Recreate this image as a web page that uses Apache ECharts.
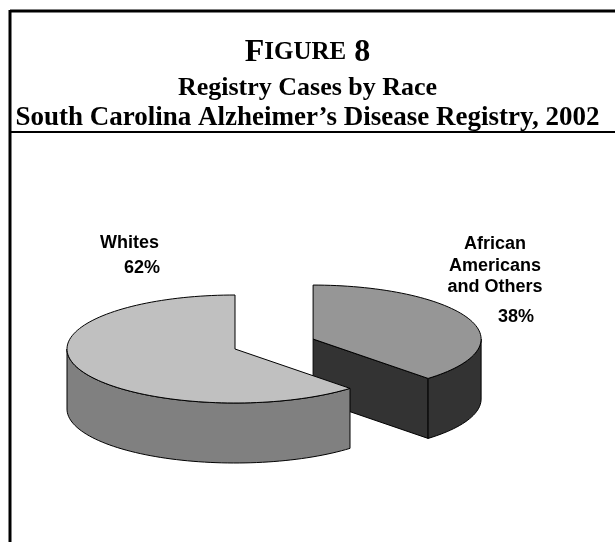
<!DOCTYPE html>
<html>
<head>
<meta charset="utf-8">
<script src="https://cdn.jsdelivr.net/npm/echarts@6/dist/echarts.min.js"></script>
<style>
html,body{margin:0;padding:0;background:#fff;}
#chart{width:615px;height:542px;}
</style>
</head>
<body>
<div id="chart"></div>
<script>
// ---- data ----
var categories = ['African\nAmericans\nand Others', 'Whites'];
var percents = [38, 62];
var titleLine1 = ['F', 'IGURE', '8'];
var titleLine2 = 'Registry Cases by Race';
var titleLine3 = 'South Carolina Alzheimer\u2019s Disease Registry, 2002';

// ---- layout / style (not data) ----
var CX = 235, CY = 349, RA = 168, RB = 54, DEPTH = 60;
var explode = [0.5, 0];
var topColors = ['#969696', '#c0c0c0'];
var sideColors = ['#333333', '#808080'];
var labelLayout = [
  {name: {dx: 182, dy: -95, align: 'center'}, pct: {dx: 203, dy: -22, align: 'center'}, lh: 21.5},
  {name: {dx: -76, dy: -105.5, align: 'right'}, pct: {dx: -75, dy: -80.5, align: 'right'}, lh: 20}
];
var SERIF = '"Liberation Serif", "Times New Roman", serif';

var total = percents.reduce(function (s, v) { return s + v; }, 0);
var starts = [], acc = 0;
percents.forEach(function (v) { starts.push(acc / total * 360); acc += v; });

function pt(cx, cy, deg, dz) {
  var r = deg * Math.PI / 180;
  return [cx + RA * Math.sin(r), cy - RB * Math.cos(r) + (dz || 0)];
}
function arc(cx, cy, a0, a1, dz) {
  var pts = [], n = Math.max(2, Math.ceil(Math.abs(a1 - a0) / 2));
  for (var i = 0; i <= n; i++) pts.push(pt(cx, cy, a0 + (a1 - a0) * i / n, dz));
  return pts;
}

function renderItem(params, api) {
  var i = params.dataIndex;
  var val = api.value(1);
  var a0 = starts[i], a1 = a0 + val / total * 360;
  var mid = (a0 + a1) / 2 * Math.PI / 180;
  var cx = CX + RA * explode[i] * Math.sin(mid);
  var cy = CY - RB * explode[i] * Math.cos(mid);
  var stroke = {stroke: '#000', lineWidth: 1, lineJoin: 'round'};
  var children = [];
  var z = i * 10;
  // cut faces (only those facing the viewer)
  [[a0, -1], [a1, 1]].forEach(function (e) {
    var s = Math.sin(e[0] * Math.PI / 180) * e[1];
    if (s > 1e-6) {
      var p = pt(cx, cy, e[0]);
      children.push({type: 'polygon', z2: z + 1,
        shape: {points: [[cx, cy], p, [p[0], p[1] + DEPTH], [cx, cy + DEPTH]]},
        style: Object.assign({fill: sideColors[i]}, stroke)});
    }
  });
  // outer side: visible front half [90, 270] (+k*360)
  for (var k = -1; k <= 1; k++) {
    var f0 = Math.max(a0, 90 + k * 360), f1 = Math.min(a1, 270 + k * 360);
    if (f1 > f0) {
      var topArc = arc(cx, cy, f0, f1, 0);
      var botArc = arc(cx, cy, f1, f0, DEPTH);
      children.push({type: 'polygon', z2: z + 2,
        shape: {points: topArc.concat(botArc)},
        style: Object.assign({fill: sideColors[i]}, stroke)});
    }
  }
  // top face
  children.push({type: 'polygon', z2: z + 3,
    shape: {points: [[cx, cy]].concat(arc(cx, cy, a0, a1, 0))},
    style: Object.assign({fill: topColors[i]}, stroke)});
  // labels
  var L = labelLayout[i];
  var nLines = categories[i].split('\n').length;
  children.push({type: 'text', z2: z + 4, x: cx + L.name.dx,
    y: cy + L.name.dy + (nLines - 1) * L.lh / 2,
    style: {text: categories[i], fill: '#000',
      font: 'bold 18px "Liberation Sans", Arial, sans-serif',
      align: L.name.align, verticalAlign: 'middle', lineHeight: L.lh}});
  children.push({type: 'text', z2: z + 4, x: cx + L.pct.dx, y: cy + L.pct.dy,
    style: {text: val + '%', fill: '#000',
      font: 'bold 18px "Liberation Sans", Arial, sans-serif',
      align: L.pct.align, verticalAlign: 'middle'}});
  return {type: 'group', children: children};
}

var chart = echarts.init(document.getElementById('chart'), null, {renderer: 'canvas'});
chart.setOption({
  animation: false,
  backgroundColor: '#fff',
  graphic: [
    {type: 'line', shape: {x1: 10, y1: 11, x2: 615, y2: 11}, style: {stroke: '#000', lineWidth: 3}},
    {type: 'line', shape: {x1: 10, y1: 10, x2: 10, y2: 542}, style: {stroke: '#000', lineWidth: 3}},
    {type: 'line', shape: {x1: 10, y1: 132, x2: 615, y2: 132}, style: {stroke: '#000', lineWidth: 2}},
    {type: 'text', x: 307.5, y: 69, style: {
      text: '{a|' + titleLine1[0] + '}{b|' + titleLine1[1] + '}{a| ' + titleLine1[2] + '}',
      align: 'center', verticalAlign: 'bottom', fill: '#000',
      rich: {
        a: {font: 'bold 32px ' + SERIF, fill: '#000'},
        b: {font: 'bold 25px ' + SERIF, fill: '#000'}
      }}},
    {type: 'text', x: 307.5, y: 75, style: {text: titleLine2,
      font: 'bold 26px ' + SERIF, fill: '#000',
      align: 'center', verticalAlign: 'top'}},
    {type: 'text', x: 307.5, y: 105, style: {text: titleLine3,
      font: 'bold 27px ' + SERIF, fill: '#000',
      align: 'center', verticalAlign: 'top'}}
  ],
  series: [{
    type: 'custom',
    coordinateSystem: 'none',
    renderItem: renderItem,
    data: categories.map(function (c, i) { return [i, percents[i]]; })
  }]
});
</script>
</body>
</html>
